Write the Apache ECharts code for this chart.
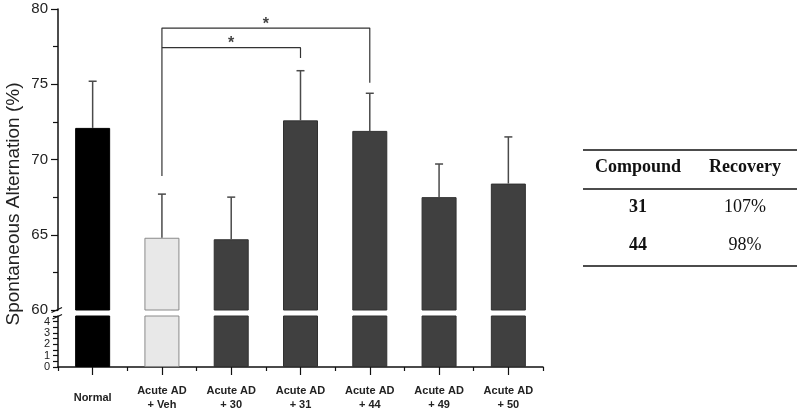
<!DOCTYPE html>
<html>
<head>
<meta charset="utf-8">
<script src="https://cdn.jsdelivr.net/npm/echarts@6/dist/echarts.min.js"></script>
<style>html,body{margin:0;padding:0;background:#fff;}#c{width:800px;height:412px;}</style>
</head>
<body>
<div id="c"></div>
<script>
const categories = ['Normal', 'Acute AD\n+ Veh', 'Acute AD\n+ 30', 'Acute AD\n+ 31', 'Acute AD\n+ 44', 'Acute AD\n+ 49', 'Acute AD\n+ 50'];
const means = [72.1, 64.8, 64.7, 72.6, 71.9, 67.5, 68.4];
const errUpper = [75.2, 67.7, 67.5, 75.9, 74.4, 69.7, 71.5];
const yTopTicks = [60, 65, 70, 75, 80];
const yBottomTicks = [0, 1, 2, 3, 4];
const yBottomMinor = [0, 0.5, 1, 1.5, 2, 2.5, 3, 3.5, 4, 4.5];
const bracketOuter = [[1, 68.9], [1, 78.73], [4, 78.73], [4, 75.1]];
const bracketInner = [[1, 77.43], [3, 77.43], [3, 76.74]];
const stars = [[2.5, 78.73], [2, 77.43]];
const tableHeader = ['Compound', 'Recovery'];
const tableCompound = ['31', '44'];
const tableRecovery = ['107%', '98%'];

const barFill = ['#000000', '#e8e8e8', '#404040', '#404040', '#404040', '#404040', '#404040'];
const barBorder = ['#000000', '#8a8a8a', '#303030', '#303030', '#303030', '#303030', '#303030'];

const chart = echarts.init(document.getElementById('c'));
const barData = means.map((v, i) => ({ value: v, itemStyle: { color: barFill[i], borderColor: barBorder[i], borderWidth: 1 } }));
const axisCol = '#111';
const font = 'Arial, "Liberation Sans", sans-serif';
const serif = '"Liberation Serif", "Times New Roman", serif';

const tableGraphics = [];
const colX = [638, 745];
const rule = (y, w) => ({ type: 'line', shape: { x1: 583, y1: y, x2: 797, y2: y }, style: { stroke: '#111', lineWidth: w } });
tableGraphics.push(rule(150, 1.5), rule(189, 1.5), rule(266, 1.5));
tableHeader.forEach((t, i) => tableGraphics.push({ type: 'text', x: colX[i], y: 167, style: { text: t, fontFamily: serif, fontSize: 18, fontWeight: 'bold', fill: '#111', align: 'center', verticalAlign: 'middle' } }));
const rowY = [207, 245];
tableCompound.forEach((t, i) => tableGraphics.push({ type: 'text', x: colX[0], y: rowY[i], style: { text: t, fontFamily: serif, fontSize: 18, fontWeight: 'bold', fill: '#111', align: 'center', verticalAlign: 'middle' } }));
tableRecovery.forEach((t, i) => tableGraphics.push({ type: 'text', x: colX[1], y: rowY[i], style: { text: t, fontFamily: serif, fontSize: 18, fill: '#111', align: 'center', verticalAlign: 'middle' } }));

const option = {
  animation: false,
  backgroundColor: '#fff',
  grid: [
    { left: 58, top: 9, width: 485, height: 301 },
    { left: 58, top: 316, width: 485, height: 51 }
  ],
  xAxis: [
    { gridIndex: 0, type: 'category', data: categories, show: false },
    { gridIndex: 0, type: 'value', min: -0.5, max: 6.5, show: false },
    { gridIndex: 1, type: 'category', data: categories, position: 'bottom',
      axisLine: { onZero: false, lineStyle: { color: axisCol, width: 1.5 } },
      axisTick: { show: true, length: 4, lineStyle: { color: axisCol, width: 1.2 } },
      axisLabel: { fontFamily: font, fontSize: 11, fontWeight: 'bold', color: '#222', margin: 31, lineHeight: 14, interval: 0, verticalAlign: 'middle' } },
    { gridIndex: 1, type: 'category', data: categories, position: 'bottom',
      axisLine: { show: false, onZero: false },
      axisTick: { show: true, alignWithLabel: true, length: 8, lineStyle: { color: axisCol, width: 1.2 } },
      axisLabel: { show: false } }
  ],
  yAxis: [
    { gridIndex: 0, type: 'value', min: 60, max: 80, interval: 5,
      axisLine: { show: true, onZero: false, lineStyle: { color: axisCol, width: 1.5 } },
      axisTick: { show: true, length: 7, lineStyle: { color: axisCol, width: 1.2 } },
      minorTick: { show: true, splitNumber: 2, length: 5, lineStyle: { color: axisCol, width: 1.2 } },
      axisLabel: { fontFamily: font, fontSize: 15, color: '#222', margin: 10 },
      splitLine: { show: false } },
    { gridIndex: 1, type: 'value', min: 0, max: 4.5,
      axisLine: { show: true, onZero: false, lineStyle: { color: axisCol, width: 1.5 } },
      axisTick: { show: true, length: 5, lineStyle: { color: axisCol, width: 1.2 }, customValues: yBottomMinor },
      axisLabel: { fontFamily: font, fontSize: 11, lineHeight: 10, color: '#222', margin: 8, customValues: yBottomTicks, showMinLabel: true, showMaxLabel: true, hideOverlap: false },
      splitLine: { show: false } }
  ],
  graphic: [
    { type: 'text', x: 14, y: 204, rotation: Math.PI / 2, style: { text: 'Spontaneous Alternation (%)', fontFamily: font, fontSize: 19, fill: '#222', align: 'center', verticalAlign: 'middle' } },
    { type: 'line', shape: { x1: 51.5, y1: 312.5, x2: 62, y2: 307.5 }, style: { stroke: '#111', lineWidth: 1.2 } },
    { type: 'line', shape: { x1: 52.5, y1: 319, x2: 62, y2: 314.5 }, style: { stroke: '#111', lineWidth: 1.2 } }
  ].concat(tableGraphics),
  series: [
    { type: 'bar', xAxisIndex: 0, yAxisIndex: 0, data: barData, barWidth: 35, clip: true, z: 2 },
    { type: 'bar', xAxisIndex: 2, yAxisIndex: 1, data: barData, barWidth: 35, clip: true, z: 2 },
    { type: 'custom', xAxisIndex: 0, yAxisIndex: 0, z: 3,
      data: means.map((m, i) => [i, m, errUpper[i]]),
      renderItem: function (params, api) {
        const p0 = api.coord([api.value(0), api.value(1)]);
        const p1 = api.coord([api.value(0), api.value(2)]);
        const st = { stroke: '#4a4a4a', lineWidth: 1.5 };
        return { type: 'group', children: [
          { type: 'line', shape: { x1: p0[0], y1: p0[1], x2: p1[0], y2: p1[1] }, style: st },
          { type: 'line', shape: { x1: p1[0] - 4, y1: p1[1], x2: p1[0] + 4, y2: p1[1] }, style: st }
        ] };
      } },
    { type: 'line', xAxisIndex: 1, yAxisIndex: 0, data: bracketOuter, symbol: 'none', lineStyle: { color: '#333', width: 1.2 }, z: 4 },
    { type: 'line', xAxisIndex: 1, yAxisIndex: 0, data: bracketInner, symbol: 'none', lineStyle: { color: '#333', width: 1.2 }, z: 4 },
    { type: 'scatter', xAxisIndex: 1, yAxisIndex: 0, data: stars, symbolSize: 0, z: 5,
      label: { show: true, formatter: '*', position: 'top', distance: -4, fontFamily: font, fontSize: 16, fontWeight: 'bold', color: '#111' } }
  ]
};
chart.setOption(option);
</script>
</body>
</html>
